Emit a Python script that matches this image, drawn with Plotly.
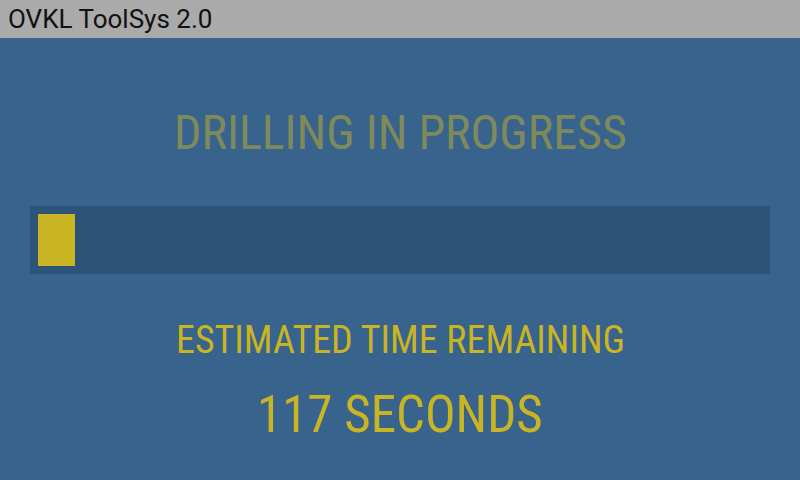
import plotly.graph_objects as go

# screen content
app_title = "OVKL ToolSys 2.0"
status_text = "DRILLING IN PROGRESS"
eta_label = "ESTIMATED TIME REMAINING"
eta_seconds = 117
progress_pct = [5.1]
progress_cat = ["drill"]

W, H = 800, 480
BG = "rgb(56,99,140)"
TRACK = "rgb(44,84,121)"
YELLOW = "rgb(201,180,36)"
OLIVE = "rgb(127,138,90)"
COND = "Roboto Condensed, Roboto, sans-serif"


def py(px_from_top):
    # pixel row -> paper y
    return (H - px_from_top) / H


def px(px_from_left):
    return px_from_left / W


fig = go.Figure()
fig.add_trace(go.Bar(
    x=progress_pct, y=progress_cat, orientation="h",
    marker=dict(color=YELLOW, line=dict(width=0)),
    hoverinfo="skip",
))

fig.update_layout(
    width=W, height=H,
    margin=dict(l=0, r=0, t=0, b=0),
    paper_bgcolor=BG, plot_bgcolor="rgba(0,0,0,0)",
    showlegend=False, bargap=0,
    xaxis=dict(domain=[px(38), px(762)], range=[0, 100], visible=False, fixedrange=True),
    yaxis=dict(domain=[py(266), py(214)], visible=False, fixedrange=True),
    shapes=[
        # title bar
        dict(type="rect", xref="paper", yref="paper", x0=0, x1=1, y0=py(38), y1=1,
             fillcolor="rgb(170,170,170)", line=dict(width=0), layer="below"),
        # progress track
        dict(type="rect", xref="paper", yref="paper", x0=px(30), x1=px(770), y0=py(274), y1=py(206),
             fillcolor=TRACK, line=dict(width=0), layer="below"),
    ],
    annotations=[
        dict(text=app_title, xref="paper", yref="paper", x=px(6), y=py(19),
             xanchor="left", yanchor="middle", showarrow=False,
             font=dict(family="Roboto", size=26, color="rgb(17,17,17)")),
        dict(text=status_text, xref="paper", yref="paper", x=0.5, y=py(132),
             xanchor="center", yanchor="middle", showarrow=False,
             font=dict(family=COND, size=48, color=OLIVE)),
        dict(text=eta_label, xref="paper", yref="paper", x=0.5, y=py(340),
             xanchor="center", yanchor="middle", showarrow=False,
             font=dict(family=COND, size=38, color=YELLOW)),
        dict(text=f"{eta_seconds} SECONDS", xref="paper", yref="paper", x=0.5, y=py(414),
             xanchor="center", yanchor="middle", showarrow=False,
             font=dict(family=COND, size=51, color=YELLOW)),
    ],
)

# drop the page's default body margin so the 800x480 figure fills the window
fig.write_html("out.html", config={"displayModeBar": False},
               post_script="document.body.style.margin='0';")
